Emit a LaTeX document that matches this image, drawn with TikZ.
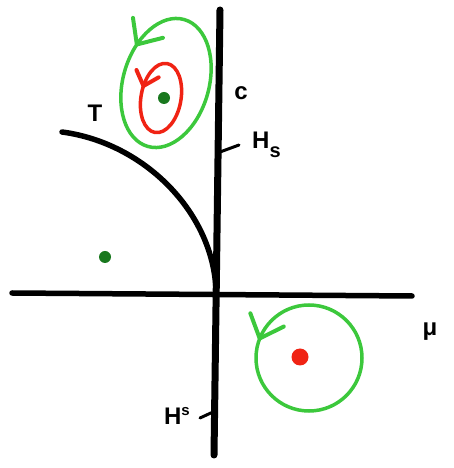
\documentclass[tikz,border=0pt]{standalone}
\usepackage{fontspec}
\setmainfont{Liberation Sans}
\usetikzlibrary{decorations.markings}
\definecolor{lgreen}{RGB}{60,200,60}
\definecolor{dgreen}{RGB}{25,120,30}
\definecolor{pred}{RGB}{240,35,20}
\tikzset{
  axis/.style={line width=5.5pt,black,line cap=round},
  vaxis/.style={line width=7pt,black,line cap=round},
  tick/.style={line width=3pt,black,line cap=round},
  orbit/.style={line width=3.5pt},
  lbl/.style={font=\fontsize{24}{26}\selectfont\bfseries,inner sep=0pt},
  arrmark/.style 2 args={postaction={decorate,decoration={markings,mark=at position #1 with {\draw[line width=4pt,line cap=round,line join=round] (-#2,0.9*#2) -- (0,0) -- (-#2,-0.9*#2);}}}}
}
\begin{document}
\begin{tikzpicture}[x=1pt,y=1pt]
\useasboundingbox (0,0) rectangle (453,468);
% axes
\coordinate (vtop) at (220,458);
\coordinate (vbot) at (214,13);
\coordinate (hl) at (12,175);
\coordinate (hr) at (412,172);
\draw[vaxis] (vtop) -- (vbot);
\draw[axis] (hl) -- (hr);
% curve T
\coordinate (ts) at (62,336);
\coordinate (te) at (216,178);
\draw[axis] (ts) .. controls (145,325) and (213,255) .. (te);
% ticks
\coordinate (hs1) at (220,316);
\coordinate (hs2) at (239,323);
\draw[tick] (hs1) -- (hs2);
\coordinate (hu1) at (213,56);
\coordinate (hu2) at (200,50);
\draw[tick] (hu1) -- (hu2);
% labels
\node[lbl] (T) at (95,355) {T};
\node[lbl] (c) at (241,375) {c};
\node[lbl,anchor=west] (Hs) at (252,323) {H\raisebox{-9pt}{\fontsize{20}{20}\selectfont s}};
\node[lbl,anchor=east] (Hu) at (190,52) {H\raisebox{9pt}{\fontsize{15}{15}\selectfont s}};
\node[lbl] (mu) at (430,136) {μ};
% top orbits
\draw[orbit,lgreen,arrmark={0.415}{20pt}] (166,385) ellipse [x radius=43, y radius=66, rotate=-16];
\draw[orbit,pred,arrmark={0.45}{13pt}] (161,370) ellipse [x radius=20, y radius=35, rotate=-10];
\node[circle,fill=dgreen,minimum size=12pt,inner sep=0pt] (e1) at (164,370) {};
% left dot
\node[circle,fill=dgreen,minimum size=12pt,inner sep=0pt] (e2) at (105,211) {};
% bottom orbit
\draw[orbit,lgreen,arrmark={0.44}{20pt}] (309,110) ellipse [x radius=53, y radius=53];
\node[circle,fill=pred,minimum size=17pt,inner sep=0pt] (e3) at (300,111) {};
\end{tikzpicture}
\end{document}
